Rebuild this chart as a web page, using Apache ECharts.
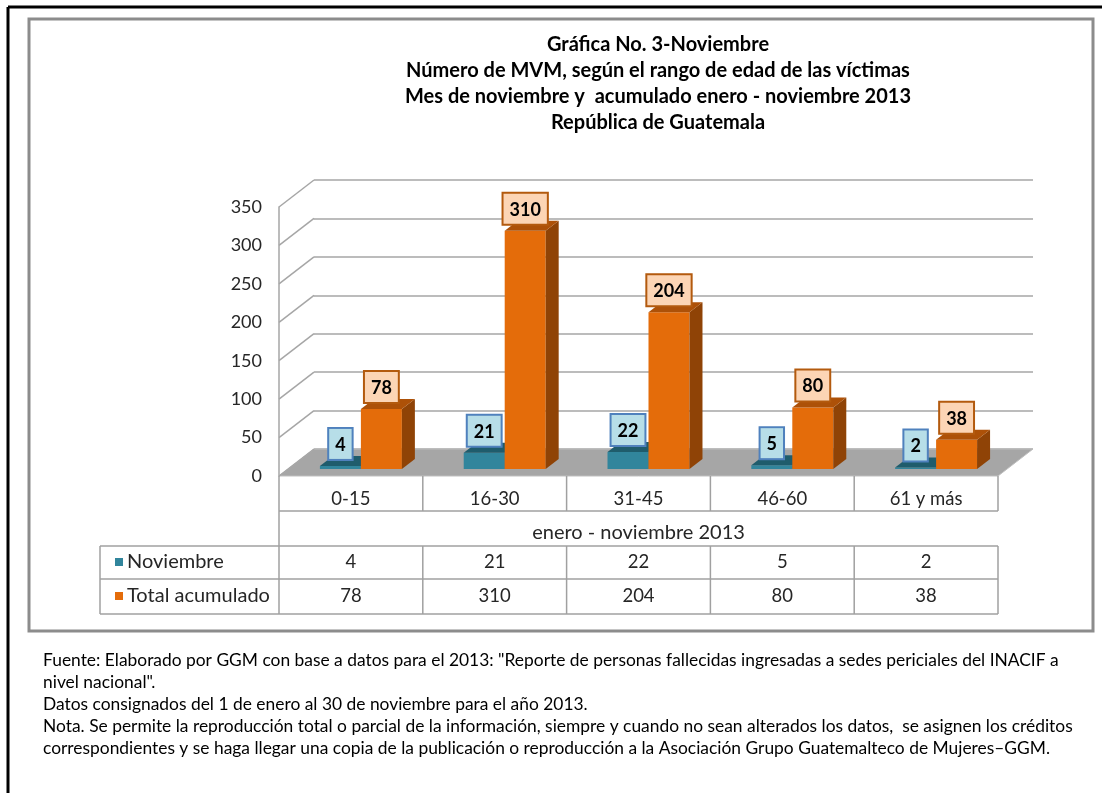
<!DOCTYPE html>
<html><head><meta charset="utf-8">
<script src="https://cdn.jsdelivr.net/npm/echarts@6/dist/echarts.min.js"></script>
<style>html,body{margin:0;padding:0;background:#fff}#c{width:1102px;height:793px}</style>
</head><body><div id="c"></div>
<script>
const categories = ['0-15', '16-30', '31-45', '46-60', '61 y más'];
const noviembre = [4, 21, 22, 5, 2];
const totalAcumulado = [78, 310, 204, 80, 38];
const yTicks = [0, 50, 100, 150, 200, 250, 300, 350];
const seriesNames = ['Noviembre', 'Total acumulado'];
const tableCaption = 'enero - noviembre 2013';
const titleLines = [
  'Gráfica No. 3-Noviembre',
  'Número de MVM, según el rango de edad de las víctimas',
  'Mes de noviembre y  acumulado enero - noviembre 2013',
  'República de Guatemala'
];
const footerLines = [
  'Fuente: Elaborado por GGM con base a datos para el 2013: "Reporte de personas fallecidas ingresadas a sedes periciales del INACIF a',
  'nivel nacional".',
  'Datos consignados del 1 de enero al 30 de noviembre para el año 2013.',
  'Nota. Se permite la reproducción total o parcial de la información, siempre y cuando no sean alterados los datos,  se asignen los créditos',
  'correspondientes y se haga llegar una copia de la publicación o reproducción a la Asociación Grupo Guatemalteco de Mujeres–GGM.'
];

const FONT = 'Lato';
const TEAL = {front: '#31859C', top: '#1F5C6C', side: '#215F6E'};
const ORANGE = {front: '#E46C0A', top: '#AD5108', side: '#8F4306'};
const DEPTH = [35, -27];
const BAR_DEPTH = [13, -10];
const GRID_COLOR = '#A6A6A6';
const TEXT = '#262626';

function barRender(side, col, lab) {
  return function (params, api) {
    const i = api.value(0), v = api.value(1);
    const top = api.coord([i, v]), base = api.coord([i, 0]);
    const w = api.size([1, 0])[0] * 0.285;
    const x0 = side < 0 ? top[0] - w : top[0];
    const x1 = x0 + w;
    const dx = BAR_DEPTH[0], dy = BAR_DEPTH[1];
    const yT = top[1], yB = base[1];
    return {
      type: 'group',
      children: [
        {type: 'rect', shape: {x: x0, y: yT, width: w, height: yB - yT}, style: {fill: col.front}},
        {type: 'polygon', shape: {points: [[x1, yT], [x1 + dx, yT + dy], [x1 + dx, yB + dy], [x1, yB]]}, style: {fill: col.side}},
        {type: 'polygon', shape: {points: [[x0, yT], [x1, yT], [x1 + dx, yT + dy], [x0 + dx, yT + dy]]}, style: {fill: col.top}},
        {type: 'text', x: (x0 + x1) / 2, y: yT - 7, z2: 10,
          style: {text: String(v), font: 'bold 18px ' + FONT, fill: '#000', align: 'center', verticalAlign: 'bottom',
            backgroundColor: lab.bg, borderColor: lab.border, borderWidth: 2, padding: [7, 6, 5, 6]}}
      ]
    };
  };
}

function wallRender(params, api) {
  const cs = params.coordSys;
  const v = api.value(1);
  const y = api.coord([0, v])[1];
  const x = cs.x;
  const children = [];
  if (v === 0) {
    children.push({type: 'polygon', shape: {points: [[x, y], [x + cs.width, y], [x + cs.width + DEPTH[0], y + DEPTH[1]], [x + DEPTH[0], y + DEPTH[1]]]},
      style: {fill: '#A6A6A6', stroke: '#BFBFBF', lineWidth: 1}});
  }
  children.push({type: 'line', shape: {x1: x, y1: y, x2: x + DEPTH[0], y2: y + DEPTH[1]}, style: {stroke: GRID_COLOR, lineWidth: 1.5}});
  return {type: 'group', children};
}

function tableRender(params, api) {
  const cs = params.coordSys;
  const i = api.value(0);
  const c = api.coord([i, 0]);
  const half = api.size([1, 0])[0] / 2;
  const x0 = c[0] - half, x1 = c[0] + half;
  const yA = cs.y + cs.height;
  const r1 = yA + 35, r2 = yA + 70, r3 = yA + 103, r4 = yA + 138;
  const L = 100, R = cs.x + cs.width;
  const ls = {stroke: '#A0A0A0', lineWidth: 1.5};
  const ts = (t, x, y, align, size) => ({type: 'text', x, y, style: {text: t, font: (size || 19) + 'px ' + FONT, fill: TEXT, align: align || 'center', verticalAlign: 'middle'}});
  const ch = [
    {type: 'line', shape: {x1: x1, y1: yA, x2: x1, y2: r1}, style: ls},
    {type: 'line', shape: {x1: x1, y1: r2, x2: x1, y2: r4}, style: ls},
    ts(categories[i], c[0], yA + 23, 'center', 18.5),
    ts(String(noviembre[i]), c[0], r2 + 16, 'center', 18.5),
    ts(String(totalAcumulado[i]), c[0], r3 + 17, 'center', 18.5)
  ];
  if (i === 0) {
    ch.push(
      {type: 'line', shape: {x1: x0, y1: yA, x2: x0, y2: r4}, style: ls},
      {type: 'line', shape: {x1: x0, y1: r1, x2: R, y2: r1}, style: ls},
      {type: 'line', shape: {x1: L, y1: r2, x2: R, y2: r2}, style: ls},
      {type: 'line', shape: {x1: L, y1: r3, x2: R, y2: r3}, style: ls},
      {type: 'line', shape: {x1: L, y1: r4, x2: R, y2: r4}, style: ls},
      {type: 'line', shape: {x1: L, y1: r2, x2: L, y2: r4}, style: ls},
      ts(tableCaption, cs.x + cs.width / 2, yA + 57, 'center', 20),
      {type: 'rect', shape: {x: 115, y: r2 + 12, width: 8, height: 8}, style: {fill: TEAL.front}},
      {type: 'rect', shape: {x: 115, y: r3 + 13, width: 8, height: 8}, style: {fill: ORANGE.front}},
      ts(seriesNames[0], 127, r2 + 16, 'left', 20),
      ts(seriesNames[1], 127, r3 + 17, 'left', 20)
    );
  }
  return {type: 'group', children: ch};
}

const chart = echarts.init(document.getElementById('c'), null, {renderer: 'canvas'});
const yBase = {type: 'value', min: 0, max: 350, interval: 50};
chart.setOption({
  animation: false,
  backgroundColor: '#fff',
  grid: [
    {left: 279, right: 104, top: 207, bottom: 317},
    {left: 314, right: 69, top: 180, bottom: 344},
    {left: 289, right: 94, top: 200, bottom: 324}
  ],
  xAxis: [
    {type: 'category', gridIndex: 0, data: categories, axisLine: {show: false}, axisTick: {show: false}, axisLabel: {show: false}},
    {type: 'category', gridIndex: 1, data: categories, show: false},
    {type: 'category', gridIndex: 2, data: categories, show: false}
  ],
  yAxis: [
    Object.assign({gridIndex: 0, axisLine: {show: true, lineStyle: {color: GRID_COLOR, width: 1.5}}, axisTick: {show: false},
      splitLine: {show: false}, axisLabel: {margin: 17, fontSize: 18, fontFamily: FONT, color: TEXT}}, yBase),
    Object.assign({gridIndex: 1, axisLine: {show: false}, axisTick: {show: false}, axisLabel: {show: false},
      splitLine: {show: true, lineStyle: {color: GRID_COLOR, width: 1.5}}}, yBase),
    Object.assign({gridIndex: 2, show: false}, yBase)
  ],
  graphic: [
    {type: 'line', shape: {x1: 8, y1: 7, x2: 1102, y2: 7}, style: {stroke: '#000', lineWidth: 3}},
    {type: 'line', shape: {x1: 8, y1: 7, x2: 8, y2: 793}, style: {stroke: '#000', lineWidth: 3}},
    {type: 'rect', shape: {x: 29, y: 19, width: 1064, height: 612}, style: {fill: 'none', stroke: '#8C8C8C', lineWidth: 3}},
    {type: 'text', x: 658, y: 32, style: {text: titleLines.join('\n'), font: 'bold 20px ' + FONT, fill: '#000', textAlign: 'center', lineHeight: 26}},
    {type: 'text', x: 43, y: 649, style: {text: footerLines.join('\n'), font: '17.4px ' + FONT, fill: '#000', textAlign: 'left', lineHeight: 22}}
  ],
  series: [
    {type: 'custom', name: 'walls', xAxisIndex: 0, yAxisIndex: 0, data: yTicks.map(v => [0, v]), renderItem: wallRender, silent: true},
    {type: 'custom', name: seriesNames[0], xAxisIndex: 2, yAxisIndex: 2, data: noviembre.map((v, i) => [i, v]),
      encode: {x: 0, y: 1}, renderItem: barRender(-1, TEAL, {bg: '#B7DEE8', border: '#4F81BD'})},
    {type: 'custom', name: seriesNames[1], xAxisIndex: 2, yAxisIndex: 2, data: totalAcumulado.map((v, i) => [i, v]),
      encode: {x: 0, y: 1}, renderItem: barRender(1, ORANGE, {bg: '#FCD5B5', border: '#B35A0E'})},
    {type: 'custom', name: 'table', xAxisIndex: 0, yAxisIndex: 0, data: categories.map((c, i) => [i, 0]), renderItem: tableRender, silent: true}
  ]
});
</script></body></html>
